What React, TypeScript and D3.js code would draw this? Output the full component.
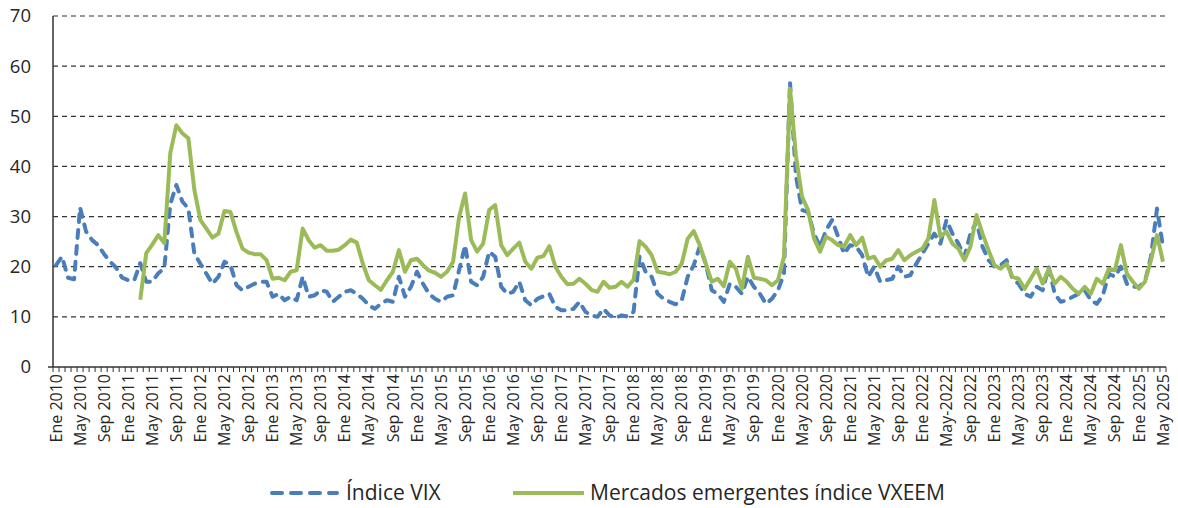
import React, { useEffect, useRef } from "react";
import * as d3 from "d3";

// monthly values, Ene 2010 .. May 2025
const vix = [
  20.3, 22.0, 17.8, 17.5, 31.8, 27.0, 25.3, 24.3, 22.5, 21.0, 19.8, 17.8,
  17.3, 17.3, 20.7, 17.0, 17.0, 18.7, 19.7, 32.5, 36.3, 33.0, 31.6, 22.6,
  20.6, 18.6, 16.6, 18.0, 21.0, 20.3, 16.3, 15.3, 16.0, 16.6, 17.0, 17.0,
  14.0, 14.6, 13.3, 14.0, 13.3, 18.0, 14.0, 14.3, 15.3, 15.0, 13.0, 14.0,
  15.0, 15.3, 14.6, 13.6, 12.3, 11.6, 12.6, 13.3, 13.0, 18.0, 14.0, 16.0,
  19.0, 16.6, 14.6, 13.6, 13.0, 14.0, 14.3, 19.3, 24.3, 17.0, 16.3, 18.0,
  23.0, 22.0, 16.0, 14.6, 15.0, 17.0, 13.3, 12.3, 13.6, 14.1, 14.6, 12.0,
  11.3, 11.3, 11.6, 13.0, 11.0, 10.3, 10.0, 11.6, 10.3, 9.8, 10.3, 10.1,
  11.0, 22.0, 19.0, 18.0, 14.6, 13.6, 13.0, 12.5, 13.3, 18.0, 20.3, 24.0,
  20.6, 15.3, 14.6, 13.0, 16.6, 16.0, 14.6, 18.0, 16.0, 14.6, 12.6, 13.6,
  15.3, 18.6, 56.8, 38.0, 31.3, 30.9, 26.6, 24.0, 27.3, 29.3, 26.0, 22.6,
  24.3, 24.0, 22.3, 18.0, 20.0, 17.0, 17.3, 17.6, 20.0, 18.0, 18.3, 20.6,
  22.6, 24.6, 26.6, 24.6, 29.3, 26.6, 24.6, 22.0, 26.6, 29.0, 24.0, 21.3,
  20.0, 20.3, 21.3, 17.6, 16.6, 14.6, 14.0, 16.0, 15.3, 20.0, 14.6, 13.0,
  13.3, 14.0, 14.6, 15.3, 13.3, 12.6, 14.3, 18.6, 18.0, 20.0, 16.6, 16.0,
  16.0, 17.0, 22.0, 31.6, 24.0,
];

// VXEEM starts Mar 2011
const vxeemStart = 14;
const vxeem = [
  13.4, 22.7, 24.4, 26.3, 24.7, 42.7, 48.2, 46.6, 45.6, 35.3,
  29.3, 27.6, 25.8, 26.6, 31.1, 30.9, 26.9, 23.6, 22.8, 22.5, 22.5, 21.3,
  17.6, 17.8, 17.3, 19.0, 19.3, 27.6, 25.3, 23.8, 24.3, 23.2, 23.2, 23.4,
  24.3, 25.4, 24.8, 20.6, 17.3, 16.3, 15.4, 17.3, 19.0, 23.3, 19.0, 21.3,
  21.6, 20.3, 19.2, 18.8, 18.0, 19.0, 21.0, 29.9, 34.6, 25.3, 23.0, 24.6,
  31.3, 32.3, 24.3, 22.3, 23.6, 24.8, 21.0, 19.6, 21.8, 22.1, 24.1, 20.0,
  18.0, 16.5, 16.6, 17.6, 16.6, 15.4, 15.0, 17.0, 15.8, 16.0, 17.0, 16.0,
  17.4, 25.1, 24.0, 22.3, 19.0, 18.8, 18.5, 19.0, 20.6, 25.6, 27.1, 24.3,
  20.6, 17.0, 17.6, 16.1, 21.0, 19.6, 15.6, 22.0, 17.8, 17.6, 17.3, 16.3,
  17.3, 22.0, 55.5, 42.0, 34.0, 31.3, 25.6, 23.0, 26.0, 25.3, 24.3, 24.0,
  26.3, 24.3, 25.8, 21.6, 22.0, 20.0, 21.3, 21.6, 23.3, 21.3, 22.3, 23.0,
  23.6, 25.6, 33.3, 26.0, 27.0, 24.6, 23.6, 21.3, 24.0, 30.3, 26.6, 23.3,
  20.3, 19.6, 20.6, 18.0, 17.6, 15.6, 17.6, 19.6, 16.6, 19.6, 16.6, 18.0,
  17.0, 15.6, 14.6, 16.0, 14.6, 17.6, 16.6, 19.6, 19.3, 24.3, 18.6, 17.0,
  15.6, 17.0, 21.3, 26.3, 21.0,
];

// one label every 4 months
const tickLabels = [
  "Ene 2010", "May 2010", "Sep 2010", "Ene 2011", "May 2011", "Sep 2011",
  "Ene 2012", "May 2012", "Sep 2012", "Ene 2013", "May 2013", "Sep 2013",
  "Ene 2014", "May 2014", "Sep 2014", "Ene 2015", "May 2015", "Sep 2015",
  "Ene 2016", "May 2016", "Sep 2016", "Ene 2017", "May 2017", "Sep 2017",
  "Ene 2018", "May 2018", "Sep 2018", "Ene 2019", "May 2019", "Sep 2019",
  "Ene 2020", "May 2020", "Sep 2020", "Ene 2021", "May 2021", "Sep 2021",
  "Ene 2022", "May-2022", "Sep 2022", "Ene 2023", "May 2023", "Sep 2023",
  "Ene 2024", "May 2024", "Sep 2024", "Ene 2025", "May 2025",
];

const yTicks = [0, 10, 20, 30, 40, 50, 60, 70];

const BLUE = "#4a7ebb";
const GREEN = "#9bbb59";
const FONT = "'Open Sans', 'Noto Sans', sans-serif";

function App() {
  const svgRef = useRef<SVGSVGElement | null>(null);

  useEffect(() => {
    const svg = d3.select(svgRef.current);
    svg.selectAll("*").remove();

    const left = 53, right = 1166, top = 16, bottom = 367;
    const months = d3.range(vix.length);

    const x = d3.scaleBand<number>().domain(months).range([left, right]);
    const cx = (i: number) => (x(i) as number) + x.bandwidth() / 2;
    const y = d3.scaleLinear().domain([0, 70]).range([bottom, top]);

    // gridlines
    svg
      .append("g")
      .selectAll("line")
      .data(yTicks.filter((t) => t > 0))
      .enter()
      .append("line")
      .attr("x1", left)
      .attr("x2", right)
      .attr("y1", (d) => y(d))
      .attr("y2", (d) => y(d))
      .attr("stroke", "#333")
      .attr("stroke-width", 1.2)
      .attr("stroke-dasharray", "5,4");

    // y labels
    svg
      .append("g")
      .selectAll("text")
      .data(yTicks)
      .enter()
      .append("text")
      .attr("x", 31)
      .attr("y", (d) => y(d))
      .attr("dy", "0.35em")
      .attr("text-anchor", "end")
      .attr("font-family", FONT)
      .attr("font-size", 18.5)
      .attr("fill", "#262626")
      .text((d) => d);

    // axes
    svg
      .append("line")
      .attr("x1", left)
      .attr("x2", left)
      .attr("y1", top)
      .attr("y2", bottom)
      .attr("stroke", "#333")
      .attr("stroke-width", 1.5);
    svg
      .append("line")
      .attr("x1", left - 5)
      .attr("x2", right)
      .attr("y1", bottom)
      .attr("y2", bottom)
      .attr("stroke", "#333")
      .attr("stroke-width", 1.5);
    svg
      .append("g")
      .selectAll("line")
      .data(d3.range(vix.length + 1))
      .enter()
      .append("line")
      .attr("x1", (i) => left + i * x.bandwidth())
      .attr("x2", (i) => left + i * x.bandwidth())
      .attr("y1", bottom)
      .attr("y2", bottom + 5)
      .attr("stroke", "#333")
      .attr("stroke-width", 1);

    // x labels
    svg
      .append("g")
      .selectAll("text")
      .data(tickLabels)
      .enter()
      .append("text")
      .attr("transform", (d, k) => `translate(${cx(k * 4)},${bottom + 7}) rotate(-90)`)
      .attr("dy", "0.35em")
      .attr("text-anchor", "end")
      .attr("font-family", FONT)
      .attr("font-size", 16)
      .attr("fill", "#262626")
      .text((d) => d);

    // lines
    const vixLine = d3
      .line<number>()
      .x((d, i) => cx(i))
      .y((d) => y(d));
    svg
      .append("path")
      .datum(vix)
      .attr("d", vixLine)
      .attr("fill", "none")
      .attr("stroke", BLUE)
      .attr("stroke-width", 4)
      .attr("stroke-linecap", "round")
      .attr("stroke-linejoin", "round")
      .attr("stroke-dasharray", "8,8");

    const emLine = d3
      .line<number>()
      .x((d, i) => cx(i + vxeemStart))
      .y((d) => y(d));
    svg
      .append("path")
      .datum(vxeem)
      .attr("d", emLine)
      .attr("fill", "none")
      .attr("stroke", GREEN)
      .attr("stroke-width", 4)
      .attr("stroke-linejoin", "round");

    // legend
    const ly = 493;
    svg
      .append("line")
      .attr("x1", 272)
      .attr("x2", 337)
      .attr("y1", ly)
      .attr("y2", ly)
      .attr("stroke", BLUE)
      .attr("stroke-width", 4)
      .attr("stroke-linecap", "round")
      .attr("stroke-dasharray", "10,9");
    svg
      .append("text")
      .attr("x", 346)
      .attr("y", ly)
      .attr("dy", "0.35em")
      .attr("font-family", FONT)
      .attr("font-size", 21)
      .attr("fill", "#262626")
      .text("Índice VIX");
    svg
      .append("line")
      .attr("x1", 513)
      .attr("x2", 584)
      .attr("y1", ly)
      .attr("y2", ly)
      .attr("stroke", GREEN)
      .attr("stroke-width", 4);
    svg
      .append("text")
      .attr("x", 590)
      .attr("y", ly)
      .attr("dy", "0.35em")
      .attr("font-family", FONT)
      .attr("font-size", 21)
      .attr("fill", "#262626")
      .text("Mercados emergentes índice VXEEM");
  }, []);

  return (
    <svg
      ref={svgRef}
      width={1178}
      height={508}
      style={{ position: "absolute", left: 0, top: 0, background: "#fff" }}
    />
  );
}

export default App;
